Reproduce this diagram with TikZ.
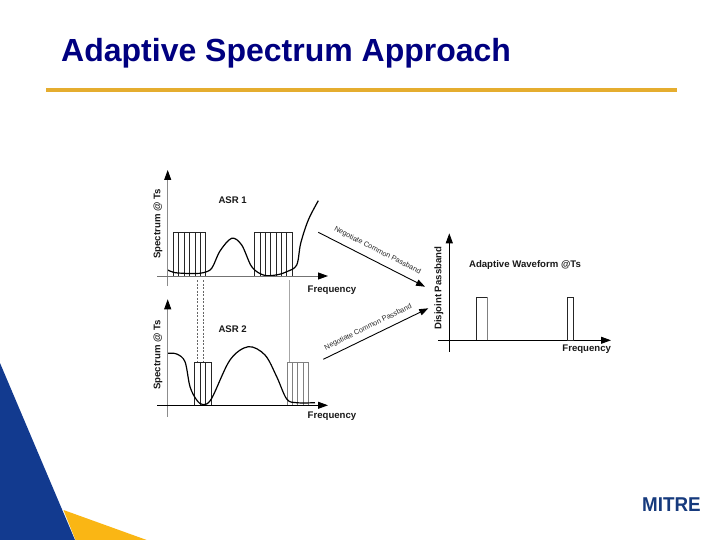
\documentclass[tikz,border=0pt]{standalone}
\usepackage{fontspec}
\setmainfont{Liberation Sans}
\usetikzlibrary{arrows.meta}
\definecolor{titlenavy}{RGB}{0,0,128}
\definecolor{rulegold}{RGB}{229,173,47}
\definecolor{logoblue}{RGB}{18,58,143}
\definecolor{logogold}{RGB}{250,182,20}
\definecolor{mitreblue}{RGB}{22,58,125}
\tikzset{
  x=1pt,y=-1pt,
  lbl/.style={font=\bfseries\fontsize{9.6}{11}\selectfont,text=black!90,inner sep=0pt},
  tiny/.style={font=\fontsize{7.2}{8}\selectfont,text=black!85,inner sep=0pt},
  axis/.style={line width=0.9pt,-{Triangle[length=10pt,width=7pt,color=black]}},
  headend/.style={-{Triangle[length=9pt,width=6.5pt,color=black]},line width=0.9pt},
  bandbox/.style={line width=0.8pt,draw=black!85},
  bandgray/.style={line width=0.8pt,draw=black!50},
  curve/.style={line width=1.2pt,smooth,tension=0.55},
  guide/.style={line width=0.5pt,draw=black!35}
}
\begin{document}
\begin{tikzpicture}
\useasboundingbox (0,0) rectangle (720,540);
\fill[white] (0,0) rectangle (720,540);
% corner shapes
\fill[logoblue] (0,363) -- (75,540) -- (0,540) -- cycle;
\fill[logogold] (63.5,510) -- (146.7,540) -- (75.5,540) -- cycle;
% title
\node[anchor=base west,inner sep=0pt,text=titlenavy,font=\bfseries\fontsize{32}{38}\selectfont] (title) at (61,61.5) {Adaptive Spectrum Approach};
\coordinate (ruleL) at (46,90);
\coordinate (ruleR) at (677,90);
\draw[rulegold,line width=3.2pt] (ruleL) -- (ruleR);
% guides
\draw[guide,dashed,dash pattern=on 2pt off 1.5pt,draw=black!60] (197.3,280) -- (197.3,361);
\draw[guide,dashed,dash pattern=on 2pt off 1.5pt,draw=black!60] (203.3,280) -- (203.3,361);
\draw[guide] (289.3,280) -- (289.3,362);
% top panel
\foreach \x in {178.3,184.3,189.7,195,200.3,260,265.3,270.7,276,281.3,286.7}
  \draw[bandbox] (\x,232) -- (\x,276);
\draw[bandbox] (173.3,276) rectangle (205.7,232);
\draw[bandbox] (254.3,276) rectangle (292.7,232);
\draw[curve] plot coordinates {(167.7,270) (174,272.5) (183.3,273.3) (195,273.5) (203.3,272.7) (211.7,268.3) (220,251) (231.7,238.3) (241.7,245) (251.7,266.7) (263.3,275) (276,275) (286.7,271.7) (296.7,265) (300.7,243.3) (308.3,220) (318.3,200.7)};
\coordinate (topYa) at (167.7,286);
\coordinate (topYb) at (167.7,170);
\coordinate (topXa) at (157,276);
\coordinate (topXb) at (328,276);
\draw[axis,draw=black!45] (topYa) -- (topYb);
\draw[axis,draw=black!55] (topXa) -- (topXb);
% bottom panel
\foreach \x in {200,205.7}
  \draw[bandbox] (\x,362) -- (\x,405.3);
\draw[bandbox] (194.3,405.3) rectangle (211.7,362);
\foreach \x in {292.7,297.7,303}
  \draw[bandgray] (\x,362) -- (\x,405.3);
\draw[bandgray] (287,405.3) rectangle (308.7,362);
\draw[curve] plot coordinates {(167.7,353.3) (176.7,354) (185,361.7) (190,386.7) (196.7,400) (203.3,404.7) (211.7,398.3) (230,360) (248.3,346.7) (265,355) (276.7,376.7) (286.7,399) (296.7,402.7) (315,402.7)};
\coordinate (botYa) at (167.7,416.7);
\coordinate (botYb) at (167.7,299.3);
\coordinate (botXa) at (157,405.3);
\coordinate (botXb) at (328,405.3);
\draw[axis,draw=black!45] (botYa) -- (botYb);
\draw[axis] (botXa) -- (botXb);
% right panel
\coordinate (rYa) at (449.3,351.7);
\coordinate (rYb) at (449.3,233.3);
\coordinate (rXa) at (438.3,340.3);
\coordinate (rXb) at (611,340.3);
\draw[axis] (rYa) -- (rYb);
\draw[axis] (rXa) -- (rXb);
\draw[bandbox] (487.3,340.3) -- (487.3,297) -- (476.3,297) -- (476.3,340.3);
\draw[bandgray] (487.3,340.3) -- (487.3,297);
\draw[bandbox] (567.7,340.3) rectangle (573.7,297);
% labels
\node[lbl,rotate=90] (specA) at (158,224) {Spectrum @ Ts};
\node[lbl,rotate=90] (specB) at (158,355) {Spectrum @ Ts};
\node[lbl] (asrA) at (232.7,200) {ASR 1};
\node[lbl] (asrB) at (232.7,329.3) {ASR 2};
\node[lbl] (freqA) at (332,289.7) {Frequency};
\node[lbl] (freqB) at (332,416) {Frequency};
\node[lbl] (freqC) at (586.7,349) {Frequency};
\node[lbl,rotate=90] (disj) at (439,288.3) {Disjoint Passband};
\node[lbl] (wave) at (525,265) {Adaptive Waveform @Ts};
% connectors
\coordinate (negAa) at (318.3,232.3);
\coordinate (negAb) at (425,286.7);
\coordinate (negBa) at (323.3,359.3);
\coordinate (negBb) at (428.3,308.3);
\draw[headend] (negAa) -- (negAb);
\draw[headend] (negBa) -- (negBb);
\node[tiny,rotate=-27] (negAl) at (377.5,250.7) {Negotiate Common Passband};
\node[tiny,rotate=26] (negBl) at (368.3,327.3) {Negotiate Common Passband};
% logo
\node[anchor=base west,inner sep=0pt,text=mitreblue,font=\bfseries\fontsize{20}{24}\selectfont,xscale=0.94] (mitre) at (642,511) {MITRE};
\end{tikzpicture}
\end{document}
